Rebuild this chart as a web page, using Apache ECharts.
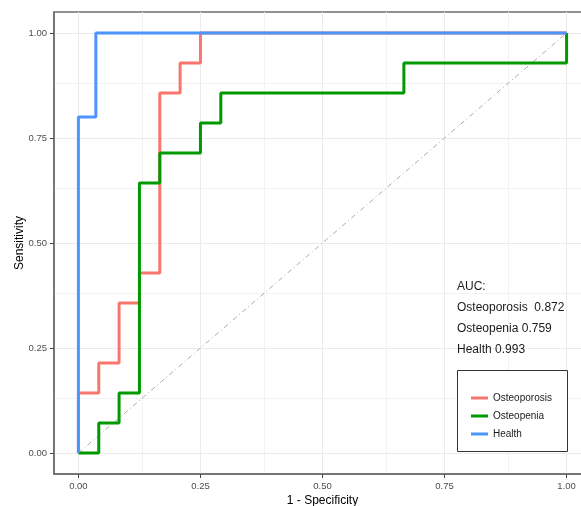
<!DOCTYPE html>
<html>
<head>
<meta charset="utf-8">
<script src="https://cdn.jsdelivr.net/npm/echarts@6/dist/echarts.min.js"></script>
<style>
  html, body { margin: 0; padding: 0; background: #fff; }
  #chart { width: 581px; height: 506px; }
</style>
</head>
<body>
<div id="chart"></div>
<script>
  // ROC corner points
  var osteoporosisFpr = [0, 0, 0.0417, 0.0417, 0.0833, 0.0833, 0.125, 0.125, 0.1667, 0.1667, 0.2083, 0.2083, 0.25, 0.25, 1];
  var osteoporosisTpr = [0, 0.1429, 0.1429, 0.2143, 0.2143, 0.3571, 0.3571, 0.4286, 0.4286, 0.8571, 0.8571, 0.9286, 0.9286, 1, 1];

  var osteopeniaFpr = [0, 0.0417, 0.0417, 0.0833, 0.0833, 0.125, 0.125, 0.1667, 0.1667, 0.25, 0.25, 0.2917, 0.2917, 0.6667, 0.6667, 1, 1];
  var osteopeniaTpr = [0, 0, 0.0714, 0.0714, 0.1429, 0.1429, 0.6429, 0.6429, 0.7143, 0.7143, 0.7857, 0.7857, 0.8571, 0.8571, 0.9286, 0.9286, 1];

  var healthFpr = [0, 0, 0.0357, 0.0357, 1];
  var healthTpr = [0, 0.8, 0.8, 1, 1];

  var groupNames = ['Osteoporosis', 'Osteopenia', 'Health'];
  var aucValues = ['0.872', '0.759', '0.993'];

  var majorTicks = [0, 0.25, 0.5, 0.75, 1];
  var minorTicks = [0.125, 0.375, 0.625, 0.875];

  function pairs(xs, ys) {
    var out = [];
    for (var i = 0; i < xs.length; i++) out.push([xs[i], ys[i]]);
    return out;
  }

  function gridLines() {
    var d = [];
    minorTicks.forEach(function (v) {
      d.push({ xAxis: v, lineStyle: { color: '#F2F2F2', width: 1, type: 'solid' } });
      d.push({ yAxis: v, lineStyle: { color: '#F2F2F2', width: 1, type: 'solid' } });
    });
    majorTicks.forEach(function (v) {
      d.push({ xAxis: v, lineStyle: { color: '#EBEBEB', width: 1, type: 'solid' } });
      d.push({ yAxis: v, lineStyle: { color: '#EBEBEB', width: 1, type: 'solid' } });
    });
    return d;
  }

  var fmt = function (v) { return v.toFixed(2); };
  var font = 'Liberation Sans, Arial, sans-serif';
  var frame = '#6E6E6E';

  // panel runs -0.05..1.05 (ggplot expansion); the tick grid covers exactly 0..1
  var panel = { left: 54, top: 12, right: -10, bottom: 32 };
  var tickGrid = { left: 78.4, top: 33, right: 14.4, bottom: 53 };

  var tickAxis = {
    type: 'value', gridIndex: 1, min: 0, max: 1, interval: 0.25,
    axisLine: { show: false, onZero: false },
    axisTick: { show: true, inside: false, length: 4, lineStyle: { color: '#444', width: 1 } },
    axisLabel: { fontSize: 9.5, color: '#4D4D4D', margin: 7, formatter: fmt },
    splitLine: { show: false }
  };

  var chart = echarts.init(document.getElementById('chart'));

  var option = {
    animation: false,
    textStyle: { fontFamily: font },
    title: {
      text: 'AUC:\n' +
        groupNames[0] + '  ' + aucValues[0] + '\n' +
        groupNames[1] + ' ' + aucValues[1] + '\n' +
        groupNames[2] + ' ' + aucValues[2],
      left: 452,
      top: 271,
      textStyle: { fontSize: 12, fontWeight: 'normal', color: '#1a1a1a', lineHeight: 21, fontFamily: font }
    },
    grid: [
      {
        left: panel.left, top: panel.top, right: panel.right, bottom: panel.bottom,
        containLabel: false, outerBoundsMode: 'none',
        show: true, borderColor: frame, borderWidth: 1.5
      },
      {
        left: tickGrid.left, top: tickGrid.top, right: tickGrid.right, bottom: tickGrid.bottom,
        containLabel: false, outerBoundsMode: 'none', show: false
      }
    ],
    xAxis: [
      {
        type: 'value', min: -0.05, max: 1.05,
        name: '1 - Specificity', nameLocation: 'middle', nameGap: 21, nameMoveOverlap: false,
        nameTextStyle: { fontSize: 12, color: '#000', fontFamily: font },
        axisLine: { show: true, onZero: false, lineStyle: { color: frame, width: 1.5 } },
        axisTick: { show: false },
        axisLabel: { show: false },
        splitLine: { show: false }
      },
      Object.assign({}, tickAxis, { position: 'bottom', offset: tickGrid.bottom - panel.bottom })
    ],
    yAxis: [
      {
        type: 'value', min: -0.05, max: 1.05,
        name: 'Sensitivity', nameLocation: 'middle', nameGap: 28, nameRotate: 90, nameMoveOverlap: false,
        nameTextStyle: { fontSize: 12, color: '#000', fontFamily: font },
        axisLine: { show: true, onZero: false, lineStyle: { color: frame, width: 1.5 } },
        axisTick: { show: false },
        axisLabel: { show: false },
        splitLine: { show: false }
      },
      Object.assign({}, tickAxis, { position: 'left', offset: tickGrid.left - panel.left })
    ],
    legend: {
      data: groupNames,
      orient: 'vertical',
      left: 466, top: 388,
      itemWidth: 17, itemHeight: 3, itemGap: 8,
      icon: 'rect',
      textStyle: { fontSize: 10, color: '#1a1a1a', fontFamily: font },
      z: 6
    },
    graphic: [{
      type: 'rect', z: 5,
      shape: { x: 457.5, y: 370.5, width: 110, height: 81 },
      style: { fill: '#fff', stroke: '#333', lineWidth: 1 }
    }],
    series: [
      {
        name: 'grid', type: 'line', data: [], silent: true, z: 0,
        markLine: { silent: true, z: 0, symbol: 'none', label: { show: false }, animation: false, data: gridLines() }
      },
      {
        name: 'diag', type: 'line', silent: true, symbol: 'none', z: 1,
        data: [[0, 0], [1, 1]],
        lineStyle: { color: '#AAAAAA', width: 1, type: [5, 3, 1, 3] }
      },
      {
        name: groupNames[0], type: 'line', symbol: 'none', z: 2,
        data: pairs(osteoporosisFpr, osteoporosisTpr),
        itemStyle: { color: '#F8766D' },
        lineStyle: { color: '#F8766D', width: 3 }
      },
      {
        name: groupNames[1], type: 'line', symbol: 'none', z: 3,
        data: pairs(osteopeniaFpr, osteopeniaTpr),
        itemStyle: { color: '#009A00' },
        lineStyle: { color: '#009A00', width: 3 }
      },
      {
        name: groupNames[2], type: 'line', symbol: 'none', z: 4,
        data: pairs(healthFpr, healthTpr),
        itemStyle: { color: '#4D94FF' },
        lineStyle: { color: '#4D94FF', width: 3 }
      }
    ]
  };

  chart.setOption(option);
</script>
</body>
</html>
